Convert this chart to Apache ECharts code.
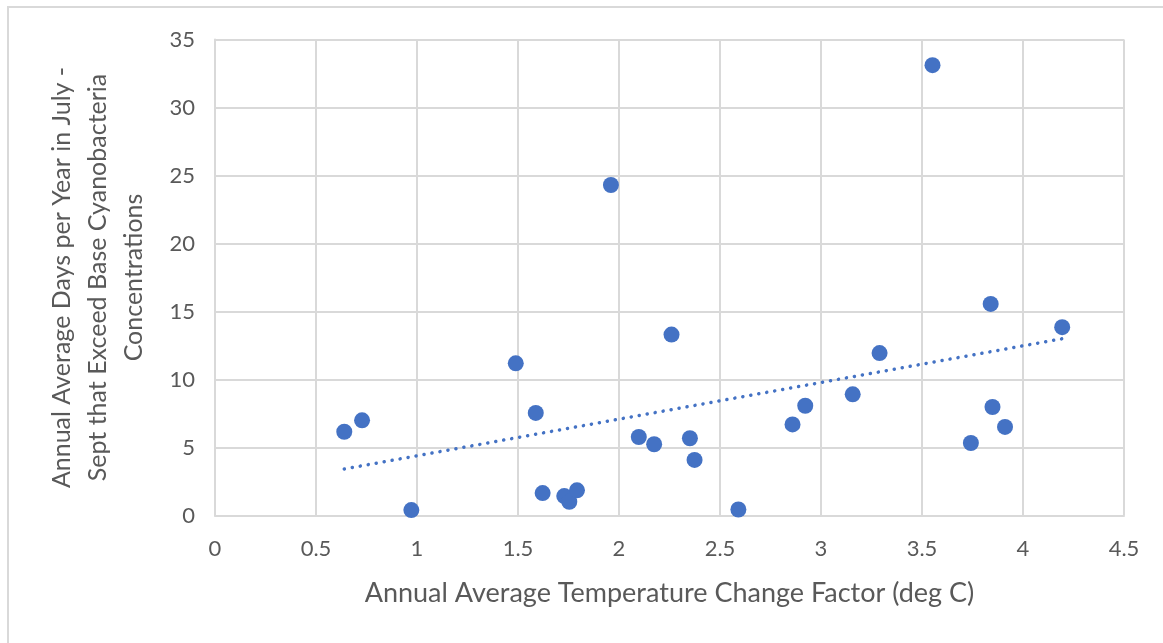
<!DOCTYPE html>
<html>
<head>
<meta charset="utf-8">
<script src="https://cdn.jsdelivr.net/npm/echarts@6/dist/echarts.min.js"></script>
<style>
  html, body { margin: 0; padding: 0; background: #fff; }
  #frame { position: absolute; left: 7px; top: 6px; width: 1170px; height: 650px;
           border-left: 2px solid #d9d9d9; border-top: 2px solid #d9d9d9; }
  #main { position: absolute; left: 0; top: 0; width: 1163px; height: 643px; }
</style>
</head>
<body>
<div id="frame"></div>
<div id="main"></div>
<script>
// temperature change factor (deg C) vs days exceeding base cyanobacteria
var tempChange = [0.64, 0.728, 0.972, 1.489, 1.588, 1.622, 1.729, 1.754, 1.792, 1.96,
  2.098, 2.174, 2.26, 2.351, 2.374, 2.591, 2.859, 2.922, 3.157, 3.29,
  3.552, 3.742, 3.84, 3.849, 3.911, 4.194];
var daysExceed = [6.16, 7.0, 0.4, 11.19, 7.54, 1.65, 1.43, 1.01, 1.85, 24.3,
  5.77, 5.24, 13.3, 5.68, 4.09, 0.44, 6.7, 8.07, 8.91, 11.94,
  33.11, 5.33, 15.56, 7.98, 6.51, 13.85];
var xTicks = [0, 0.5, 1, 1.5, 2, 2.5, 3, 3.5, 4, 4.5];
var yTicks = [0, 5, 10, 15, 20, 25, 30, 35];

var points = tempChange.map(function (x, i) { return [x, daysExceed[i]]; });

// linear trendline (least squares)
var n = points.length, sx = 0, sy = 0, sxy = 0, sxx = 0;
points.forEach(function (p) { sx += p[0]; sy += p[1]; sxy += p[0] * p[1]; sxx += p[0] * p[0]; });
var slope = (n * sxy - sx * sy) / (n * sxx - sx * sx);
var intercept = (sy - slope * sx) / n;
var xMin = Math.min.apply(null, tempChange), xMax = Math.max.apply(null, tempChange);
var trend = [[xMin, intercept + slope * xMin], [xMax, intercept + slope * xMax]];

var chart = echarts.init(document.getElementById('main'));
var textColor = '#595959';
var gridColor = '#d9d9d9';

var option = {
  backgroundColor: 'transparent',
  animation: false,
  grid: { left: 215, right: 39, top: 39.5, bottom: 127.5 },
  xAxis: {
    type: 'value',
    min: xTicks[0], max: xTicks[xTicks.length - 1], interval: 0.5,
    name: 'Annual Average Temperature Change Factor (deg C)',
    nameLocation: 'middle', nameGap: 64,
    nameTextStyle: { color: textColor, fontSize: 27, fontFamily: 'Lato' },
    axisLine: { show: true, lineStyle: { color: gridColor, width: 2 } },
    axisTick: { show: false },
    axisLabel: { color: textColor, fontSize: 22, fontFamily: 'Lato', margin: 22 },
    splitLine: { show: true, lineStyle: { color: gridColor, width: 2 } }
  },
  yAxis: {
    type: 'value',
    min: yTicks[0], max: yTicks[yTicks.length - 1], interval: 5,
    name: 'Annual Average Days per Year in July -\nSept that Exceed Base Cyanobacteria\nConcentrations',
    nameLocation: 'middle', nameGap: 63, nameRotate: 90,
    nameTextStyle: { color: textColor, fontSize: 25, fontFamily: 'Lato', lineHeight: 36, align: 'center' },
    axisLine: { show: true, lineStyle: { color: gridColor, width: 2 } },
    axisTick: { show: false },
    axisLabel: { color: textColor, fontSize: 22, fontFamily: 'Lato', margin: 20 },
    splitLine: { show: true, lineStyle: { color: gridColor, width: 2 } }
  },
  series: [
    {
      type: 'scatter',
      data: points,
      symbol: 'circle',
      symbolSize: 16,
      itemStyle: { color: '#4472c4', opacity: 1 },
      z: 3
    },
    {
      type: 'line',
      data: trend,
      symbol: 'none',
      lineStyle: { color: '#4472c4', width: 3.5, type: [0.1, 8], cap: 'round' },
      z: 2
    }
  ]
};

chart.setOption(option);
</script>
</body>
</html>
